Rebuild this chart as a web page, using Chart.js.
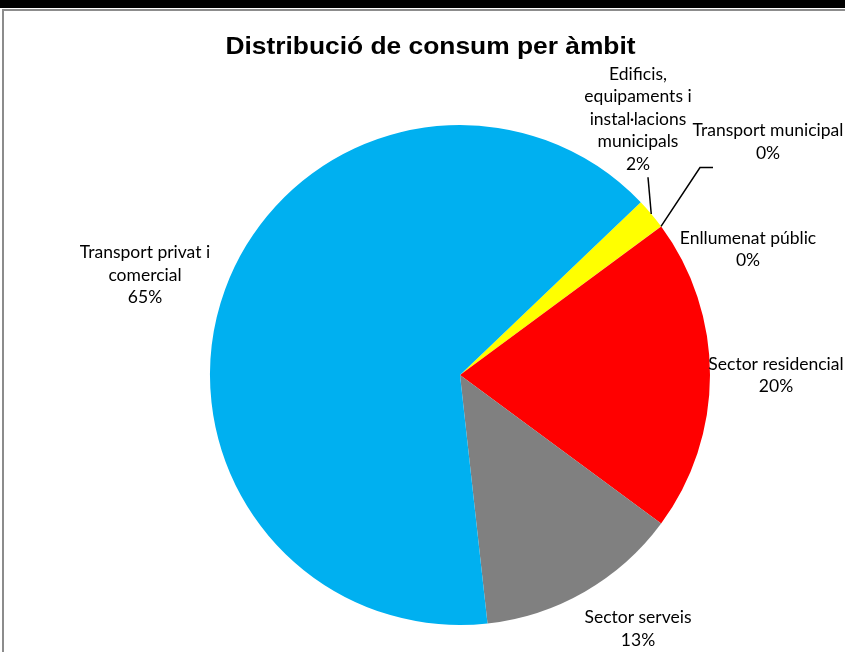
<!DOCTYPE html>
<html>
<head>
<meta charset="utf-8">
<script src="https://cdn.jsdelivr.net/npm/chart.js@4"></script>
<style>
html,body{margin:0;padding:0;background:#fff;}
canvas{display:block;}
</style>
</head>
<body>
<canvas id="c" width="845" height="652"></canvas>
<script>
const chartTitle = "Distribució de consum per àmbit";
const categories = [
  ["Edificis,", "equipaments i", "instal·lacions", "municipals"],
  ["Transport municipal"],
  ["Enllumenat públic"],
  ["Sector residencial"],
  ["Sector serveis"],
  ["Transport privat i", "comercial"]
];
const values = [2.0, 0.01, 0.01, 20.2, 13.1, 64.5];
const colors = ["#FFFF00", "#FFFF00", "#FF0000", "#FF0000", "#808080", "#00B0F0"];

// label placement (style): centre relative to pie centre, in radius units
const labelPos = [
  [0.712, -1.024],
  [1.232, -0.932],
  [1.152, -0.502],
  [1.264, 0.002],
  [0.712, 1.016],
  [-1.26, -0.40]
];
const lineH = 22.5;
const labelFont = "17.5px Lato";

const total = values.reduce((a, b) => a + b, 0);

const framePlugin = {
  id: 'frame',
  beforeDraw(chart) {
    const ctx = chart.ctx;
    ctx.save();
    ctx.fillStyle = "#fff";
    ctx.fillRect(0, 0, chart.width, chart.height);
    ctx.fillStyle = "#000";
    ctx.fillRect(0, 0, chart.width, 8);
    ctx.strokeStyle = "#8c8c8c";
    ctx.lineWidth = 2;
    ctx.beginPath();
    ctx.moveTo(3, chart.height + 2);
    ctx.lineTo(3, 10);
    ctx.lineTo(chart.width + 2, 10);
    ctx.stroke();
    ctx.restore();
  },
  afterDraw(chart) {
    const ctx = chart.ctx;
    const meta = chart.getDatasetMeta(0);
    ctx.save();
    // title
    ctx.fillStyle = "#000";
    ctx.font = "bold 24.5px 'Liberation Sans', Arial";
    ctx.textAlign = "center";
    ctx.textBaseline = "alphabetic";
    ctx.save();
    ctx.translate(430.5, 54);
    ctx.scale(1.076, 1);
    ctx.fillText(chartTitle, 0, 0);
    ctx.restore();

    ctx.font = labelFont;
    ctx.textBaseline = "middle";
    meta.data.forEach((arc, i) => {
      const p = arc.getProps(['x', 'y', 'startAngle', 'endAngle', 'outerRadius'], true);
      const r = p.outerRadius;
      const cx = p.x + labelPos[i][0] * r;
      const cy = p.y + labelPos[i][1] * r;
      const lines = categories[i].concat([Math.round(values[i] / total * 100) + "%"]);
      const h = lines.length * lineH;
      const top = cy - h / 2;
      lines.forEach((t, k) => {
        ctx.fillText(t, cx, top + lineH * (k + 0.5));
      });
      // leader lines
      const mid = (p.startAngle + p.endAngle) / 2;
      const ex = p.x + Math.cos(mid) * r;
      const ey = p.y + Math.sin(mid) * r;
      ctx.strokeStyle = "#000";
      ctx.lineWidth = 1.5;
      if (i === 0) {
        ctx.beginPath();
        ctx.moveTo(cx + 10, top + h + 2);
        ctx.lineTo(ex, ey);
        ctx.stroke();
      } else if (i === 1) {
        const ly = top + h + 3;
        const lx = cx - 55;
        ctx.beginPath();
        ctx.moveTo(lx, ly);
        ctx.lineTo(lx - 13, ly);
        ctx.lineTo(ex, ey);
        ctx.stroke();
      }
    });
    ctx.restore();
  }
};

new Chart(document.getElementById('c'), {
  type: 'pie',
  data: {
    labels: categories.map(c => c.join(' ')),
    datasets: [{
      data: values,
      backgroundColor: colors,
      borderWidth: 0
    }]
  },
  options: {
    responsive: false,
    animation: false,
    rotation: 46.3,
    layout: { padding: { left: 210, right: 135, top: 125, bottom: 27 } },
    plugins: {
      legend: { display: false },
      title: { display: false },
      tooltip: { enabled: false }
    }
  },
  plugins: [framePlugin]
});
</script>
</body>
</html>
